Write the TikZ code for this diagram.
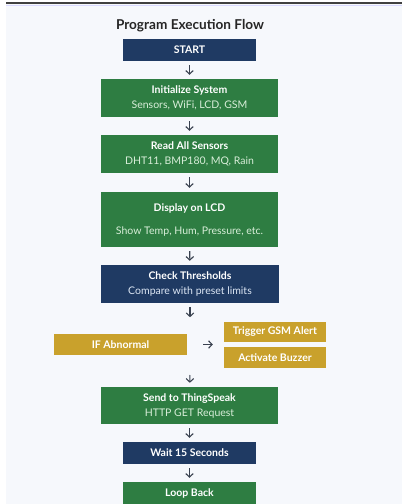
\documentclass[tikz,border=0pt]{standalone}
\usepackage{fontspec}
\setmainfont{Lato}
\usetikzlibrary{arrows.meta}
\definecolor{navy}{HTML}{1F3A63}
\definecolor{grn}{HTML}{2E7D42}
\definecolor{gold}{HTML}{C9A12C}
\definecolor{bgc}{HTML}{F6F8FC}
\definecolor{arr}{HTML}{3A4250}
\definecolor{subg}{HTML}{D8EED9}
\definecolor{subn}{HTML}{DCE6F4}
\tikzset{
  box/.style={draw=none, text=white, align=center, inner sep=0pt, font=\fontsize{10.5}{13}\selectfont},
  navybox/.style={box, fill=navy},
  greenbox/.style={box, fill=grn},
  goldbox/.style={box, fill=gold},
  flow/.style={-{Straight Barb[length=3.5pt,width=7.5pt]}, draw=arr, line width=1.1pt, shorten >=4pt, shorten <=4pt},
}
\newcommand{\ttl}[1]{{\bfseries #1}}
\newcommand{\sbg}[1]{{\color{subg}#1}}
\newcommand{\sbn}[1]{{\color{subn}#1}}
\begin{document}
\begin{tikzpicture}[x=1pt,y=-1pt]
\useasboundingbox (0,0) rectangle (402,504);
\fill[white] (0,0) rectangle (402,504);
\fill[bgc] (6,3) rectangle (402,504);
\draw[line width=1.2pt, draw=black!75] (6,3) -- (402,3);
\draw[line width=0.8pt, draw=blue!15] (6,5) -- (402,5);
\node[font=\fontsize{13.6}{15}\selectfont\bfseries, text=black!85] (title) at (190,26) {Program Execution Flow};
\node[navybox, minimum width=133pt, minimum height=22pt] (start) at (189.5,50) {\ttl{START}};
\node[greenbox, minimum width=177pt, minimum height=38pt] (init) at (189.5,98) {\ttl{Initialize System}\\[2pt]\sbg{Sensors, WiFi, LCD, GSM}};
\node[greenbox, minimum width=177pt, minimum height=38pt] (read) at (189.5,154) {\ttl{Read All Sensors}\\[2pt]\sbg{DHT11, BMP180, MQ, Rain}};
\node[greenbox, minimum width=177pt, minimum height=55pt] (lcd) at (189.5,219.5) {\ttl{Display on LCD}\\[10pt]\sbg{Show Temp, Hum, Pressure, etc.}};
\node[navybox, minimum width=178pt, minimum height=38pt] (check) at (190,284) {\ttl{Check Thresholds}\\[2pt]\sbn{Compare with preset limits}};
\node[goldbox, minimum width=133pt, minimum height=21pt] (abn) at (120.5,344.5) {\ttl{IF Abnormal}};
\node[goldbox, minimum width=102pt, minimum height=20pt] (gsm) at (275,332) {\ttl{Trigger GSM Alert}};
\node[goldbox, minimum width=102pt, minimum height=21pt] (buz) at (275,357.5) {\ttl{Activate Buzzer}};
\node[greenbox, minimum width=177pt, minimum height=37pt] (send) at (189.5,405.5) {\ttl{Send to ThingSpeak}\\[2pt]\sbg{HTTP GET Request}};
\node[navybox, minimum width=133pt, minimum height=22pt] (wait) at (189.5,453) {\ttl{Wait 15 Seconds}};
\node[greenbox, minimum width=133pt, minimum height=22pt] (loop) at (189.5,493) {\ttl{Loop Back}};
\coordinate (abnend) at (190,371);
\draw[flow] (start) -- (init);
\draw[flow] (init) -- (read);
\draw[flow] (read) -- (lcd);
\draw[flow] (lcd) -- (check);
\draw[flow] (check.south) -- ++(0,18);
\draw[flow, shorten <=16pt, shorten >=11pt] (abn) -- (abn -| gsm.west);
\draw[flow] (abnend) -- (send);
\draw[flow] (send) -- (wait);
\draw[flow] (wait) -- (loop);
\end{tikzpicture}
\end{document}
